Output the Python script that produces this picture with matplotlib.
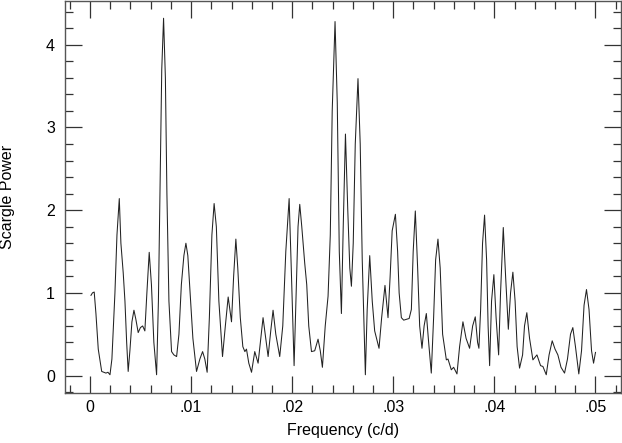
import numpy as np
import matplotlib
matplotlib.use("Agg")
import matplotlib.pyplot as plt
from matplotlib.ticker import MultipleLocator, FuncFormatter

# frequency (c/d) and Scargle power
freq = [0.0001, 0.00025, 0.00042, 0.00059, 0.00082, 0.00116, 0.00138, 0.00158, 0.00178, 0.00198,
        0.00217, 0.00247, 0.00267, 0.0029, 0.00306, 0.00329, 0.00346, 0.00363, 0.00378, 0.00395,
        0.00415, 0.00435, 0.00454, 0.00477, 0.00499, 0.00521, 0.00543, 0.00563, 0.00586, 0.00608,
        0.00632, 0.00659, 0.00677, 0.00692, 0.0071, 0.00728, 0.00746, 0.00761, 0.00781, 0.00807,
        0.0083, 0.00857, 0.0088, 0.00904, 0.00929, 0.00949, 0.00968, 0.00993, 0.01018, 0.01054,
        0.01087, 0.01114, 0.01136, 0.01159, 0.01181, 0.01206, 0.01228, 0.0125, 0.01275, 0.01311,
        0.01339, 0.01367, 0.01383, 0.014, 0.01421, 0.01443, 0.01462, 0.01487, 0.01512, 0.01532,
        0.01548, 0.01571, 0.01598, 0.0163, 0.01663, 0.0169, 0.01712, 0.01739, 0.01762, 0.01789,
        0.01811, 0.01838, 0.01877, 0.01907, 0.01937, 0.0197, 0.01991, 0.02019, 0.0204, 0.02058,
        0.02075, 0.02095, 0.02124, 0.02144, 0.02164, 0.02191, 0.02223, 0.02256, 0.02278, 0.02299,
        0.02327, 0.02355, 0.02377, 0.02396, 0.02424, 0.02446, 0.02466, 0.02487, 0.02505, 0.02527,
        0.0255, 0.0257, 0.02586, 0.02604, 0.02624, 0.02651, 0.02673, 0.02693, 0.02724, 0.02742,
        0.02767, 0.02792, 0.02816, 0.02859, 0.02885, 0.02918, 0.02948, 0.02969, 0.02989, 0.03021,
        0.03043, 0.03058, 0.0308, 0.03103, 0.03129, 0.03157, 0.03179, 0.03197, 0.03218, 0.03241,
        0.03261, 0.03284, 0.03305, 0.03327, 0.0335, 0.03376, 0.03399, 0.03419, 0.03442, 0.03464,
        0.03488, 0.03525, 0.03541, 0.03574, 0.03597, 0.0363, 0.03656, 0.03689, 0.0372, 0.03755,
        0.03785, 0.03811, 0.03834, 0.03847, 0.03864, 0.03883, 0.03903, 0.03923, 0.03938, 0.03953,
        0.03972, 0.03995, 0.04017, 0.04042, 0.04061, 0.04088, 0.04111, 0.04138, 0.0416, 0.04183,
        0.04205, 0.04225, 0.04249, 0.04279, 0.04298, 0.04321, 0.04348, 0.04381, 0.04421, 0.04457,
        0.0448, 0.04513, 0.04541, 0.04572, 0.046, 0.04628, 0.04659, 0.04694, 0.04723, 0.04753,
        0.04776, 0.04802, 0.04835, 0.04862, 0.04887, 0.04911, 0.04936, 0.04961, 0.04981, 0.05]
power = [0.97, 1.0, 1.01, 0.75, 0.32, 0.05, 0.04, 0.03, 0.04, 0.01,
         0.2, 1.0, 1.7, 2.14, 1.6, 1.24, 0.9, 0.4, 0.05, 0.3,
         0.65, 0.79, 0.68, 0.52, 0.58, 0.6, 0.54, 1.0, 1.49, 1.1,
         0.4, 0.01, 0.9, 2.2, 3.7, 4.32, 3.6, 2.2, 0.9, 0.29,
         0.25, 0.23, 0.5, 1.1, 1.45, 1.6, 1.45, 0.95, 0.45, 0.05,
         0.2, 0.29, 0.2, 0.04, 0.7, 1.7, 2.08, 1.8, 0.9, 0.23,
         0.6, 0.95, 0.8, 0.65, 1.2, 1.65, 1.3, 0.7, 0.35, 0.29,
         0.32, 0.15, 0.04, 0.29, 0.15, 0.45, 0.7, 0.45, 0.23, 0.55,
         0.79, 0.5, 0.23, 0.6, 1.5, 2.14, 1.3, 0.12, 1.0, 1.8,
         2.07, 1.8, 1.36, 1.1, 0.6, 0.29, 0.3, 0.44, 0.3, 0.1,
         0.6, 0.96, 1.7, 3.2, 4.28, 3.3, 1.5, 0.75, 1.8, 2.92,
         2.0, 1.3, 1.08, 1.6, 2.8, 3.59, 2.8, 1.4, 0.01, 0.8,
         1.45, 0.9, 0.54, 0.33, 0.7, 1.09, 0.7, 1.2, 1.75, 1.95,
         1.5, 1.0, 0.7, 0.67, 0.68, 0.69, 0.8, 1.5, 1.99, 1.3,
         0.6, 0.33, 0.6, 0.75, 0.4, 0.03, 0.7, 1.4, 1.65, 1.3,
         0.5, 0.19, 0.2, 0.07, 0.1, 0.02, 0.35, 0.65, 0.45, 0.33,
         0.6, 0.71, 0.4, 0.33, 0.8, 1.6, 1.94, 1.4, 0.6, 0.12,
         0.9, 1.22, 0.7, 0.25, 1.0, 1.79, 1.2, 0.56, 1.0, 1.25,
         0.9, 0.35, 0.09, 0.25, 0.6, 0.76, 0.45, 0.19, 0.25, 0.12,
         0.11, 0.01, 0.25, 0.42, 0.32, 0.25, 0.1, 0.03, 0.2, 0.5,
         0.58, 0.35, 0.02, 0.3, 0.85, 1.04, 0.8, 0.3, 0.15, 0.28]

plt.rcParams['font.family'] = ['Liberation Sans', 'DejaVu Sans']

fig = plt.figure(figsize=(6.22, 4.43), dpi=100)
ax = fig.add_axes([0.104, 0.113, 0.894, 0.885])

ax.plot(freq, power, color='#222222', lw=0.75)

ax.set_xlim(-0.0025, 0.0525)
ax.set_ylim(-0.21, 4.53)

ax.xaxis.set_major_locator(MultipleLocator(0.01))
ax.xaxis.set_minor_locator(MultipleLocator(0.002))
ax.yaxis.set_major_locator(MultipleLocator(1))
ax.yaxis.set_minor_locator(MultipleLocator(0.2))

def fmt_freq(v, pos):
    if abs(v) < 1e-9:
        return '0'
    return ('%.2f' % v).lstrip('0')

ax.xaxis.set_major_formatter(FuncFormatter(fmt_freq))
ax.yaxis.set_major_formatter(FuncFormatter(lambda v, pos: '%d' % round(v)))

ax.tick_params(which='both', direction='in', top=True, right=True,
               color='#333333', width=0.9, labelsize=11.5)
ax.tick_params(which='major', length=12)
ax.tick_params(which='minor', length=5.5)
ax.tick_params(axis='x', which='major', pad=5)
ax.tick_params(axis='y', which='major', pad=7)

for sp in ax.spines.values():
    sp.set_color('#555555')
    sp.set_linewidth(1.0)

ax.set_xlabel('Frequency (c/d)', fontsize=11.5, labelpad=6)
ax.set_ylabel('Scargle Power', fontsize=11.5, labelpad=22)

fig.savefig('out.png', dpi=100)
